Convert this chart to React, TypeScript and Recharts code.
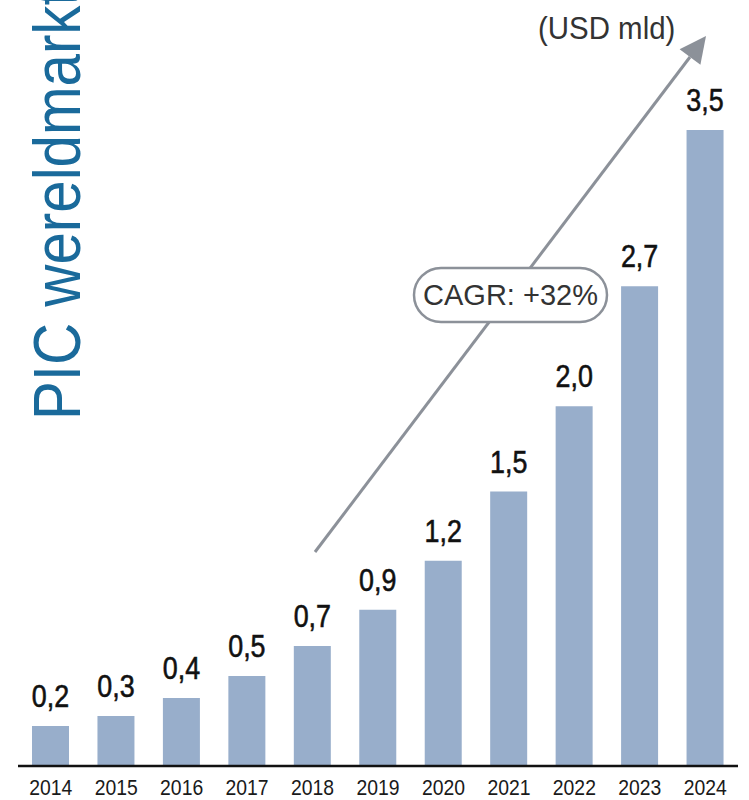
import React from 'react';
import { BarChart, Bar, XAxis, YAxis, LabelList } from 'recharts';

const years = ['2014', '2015', '2016', '2017', '2018', '2019', '2020', '2021', '2022', '2023', '2024'];
const marketValues = [0.22, 0.275, 0.374, 0.495, 0.66, 0.86, 1.13, 1.51, 1.98, 2.64, 3.5];
const valueLabels = ['0,2', '0,3', '0,4', '0,5', '0,7', '0,9', '1,2', '1,5', '2,0', '2,7', '3,5'];

const titleText = 'PIC wereldmarkt';
const unitText = '(USD mld)';
const cagrText = 'CAGR: +32%';

const data = years.map((y, i) => ({ year: y, value: marketValues[i], label: valueLabels[i] }));

const SANS = "'Liberation Sans', Arial, sans-serif";

const YearTick = (props: any) => {
  const { x, y, payload } = props;
  return (
    <text
      transform={`translate(${x},${y + 29}) scale(0.88,1)`}
      textAnchor="middle"
      fontFamily={SANS}
      fontSize={22}
      fill="#1a1a1a"
    >
      {payload.value}
    </text>
  );
};

const ValueLabel = (props: any) => {
  const { x, y, width, value } = props;
  return (
    <text
      transform={`translate(${x + width / 2},${y - 19}) scale(0.84,1)`}
      textAnchor="middle"
      fontFamily={SANS}
      fontSize={32}
      fill="#111"
      stroke="#111"
      strokeWidth={0.6}
    >
      {value}
    </text>
  );
};

export default function App() {
  return (
    <div style={{ position: 'absolute', left: 0, top: 0, width: 749, height: 800, background: '#fff' }}>
      <BarChart width={749} height={800} data={data} margin={{ top: 130, right: 11, left: 18, bottom: 0 }}>
        <YAxis hide domain={[0, 3.5]} />
        <XAxis
          dataKey="year"
          height={34}
          tickLine={false}
          tickSize={0}
          tickMargin={0}
          interval={0}
          axisLine={{ stroke: '#111', strokeWidth: 2.5 }}
          tick={<YearTick />}
        />
        <Bar dataKey="value" fill="#98aecb" barSize={37} isAnimationActive={false}>
          <LabelList dataKey="label" content={<ValueLabel />} />
        </Bar>
      </BarChart>
      <svg width={749} height={800} style={{ position: 'absolute', left: 0, top: 0, pointerEvents: 'none' }}>
        <text
          transform="translate(80,420) rotate(-90) scale(0.87,1)"
          fontFamily={SANS}
          fontSize={67}
          fill="#1a6a9b"
        >
          {titleText}
        </text>
        <text transform="translate(538,39) scale(0.95,1)" fontFamily={SANS} fontSize={31} fill="#333">
          {unitText}
        </text>
        <line x1={315} y1={552} x2={690} y2={57} stroke="#8c9199" strokeWidth={3} />
        <polygon points="706,36 679.6,49.2 700.4,64.8" fill="#8c9199" />
        <rect x={414} y={268} width={193} height={54} rx={27} ry={27} fill="#fff" stroke="#8c9199" strokeWidth={2.5} />
        <text x={510.5} y={305} textAnchor="middle" fontFamily={SANS} fontSize={29} fill="#333">
          {cagrText}
        </text>
      </svg>
    </div>
  );
}
